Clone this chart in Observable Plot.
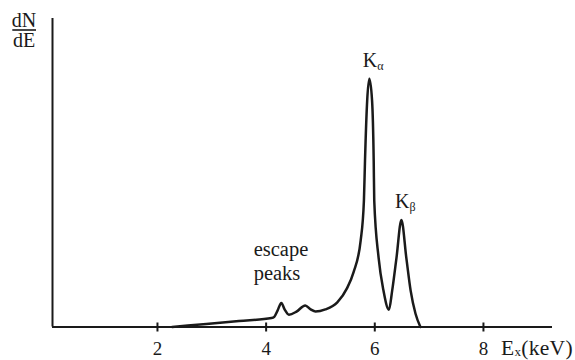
<!DOCTYPE html>
<html><head><meta charset="utf-8">
<script src="https://cdn.jsdelivr.net/npm/d3@7"></script>
<script src="https://cdn.jsdelivr.net/npm/@observablehq/plot@0.6"></script>
<style>
body{margin:0;background:#fff}
#chart{width:575px;height:360px}
#chart svg, #chart svg text, #chart svg tspan { font-family: "Liberation Serif", "DejaVu Serif", "Times New Roman", serif !important; }
</style>
</head><body><div id="chart"></div>
<script>
// Spectrum (energy in keV, counts in arbitrary units 0-100)
const energy = [2.27, 2.90, 3.50, 4.10, 4.15, 4.21, 4.28, 4.34, 4.42, 4.56, 4.72, 4.82, 4.91, 5.09, 5.31, 5.49, 5.61, 5.74, 5.80, 5.82, 5.86, 5.90, 5.95, 5.98, 5.99, 6.07, 6.16, 6.26, 6.32, 6.40, 6.49, 6.58, 6.66, 6.75, 6.84];
const counts = [0, 1.0, 1.95, 2.9, 3.3, 5.3, 7.8, 5.7, 4.0, 5.0, 7.0, 5.7, 5.0, 5.7, 8.0, 12.6, 17.8, 28.0, 41, 54, 73.4, 80.5, 73.4, 54, 41, 22.5, 11.8, 5.6, 11.8, 22.5, 34.7, 22.5, 11.8, 4.3, 0];
const xTicks = [2, 4, 6, 8];
const peakNames = ["K", "K"];
const peakSubs = ["α", "β"];
const peakEnergies = [5.90, 6.49];
const escapeText = "escape\npeaks";
const escapeE = [3.77];
const escapeN = [15.1];
const xLabel = ["E", "x", "(keV)"];
const yLabel = ["dN", "dE"];

const spectrum = energy.map((E, i) => ({E, N: counts[i]}));
const peaks = peakEnergies.map((E, i) => ({E, N: counts[energy.indexOf(E)], name: peakNames[i], sub: peakSubs[i]}));
const escape = escapeE.map((E, i) => ({E, N: escapeN[i], text: escapeText}));

const font = "\"Liberation Serif\", \"DejaVu Serif\", \"Times New Roman\", serif";
const xDomain = [0.068, 9.271];
const ink = "#1a1a1a";

const chart = Plot.plot({
  width: 575, height: 360,
  marginLeft: 52, marginRight: 23, marginTop: 18, marginBottom: 33.5,
  style: {fontFamily: font, background: "#fff", color: ink},
  x: {domain: xDomain, axis: null},
  y: {domain: [0, 100], axis: null},
  marks: [
    Plot.ruleY([0], {stroke: ink, strokeWidth: 2}),
    Plot.ruleX([xDomain[0]], {stroke: ink, strokeWidth: 2}),
    Plot.ruleX(xTicks, {x: d => d, y1: 0, y2: 0, insetTop: 5, insetBottom: 4, stroke: ink, strokeWidth: 2}),
    Plot.text(xTicks, {x: d => d, y: 0, text: d => String(d), lineAnchor: "bottom", dy: 27.5, fontSize: 19, fill: ink}),
    Plot.line(spectrum, {x: "E", y: "N", curve: "monotone-x", stroke: ink, strokeWidth: 2.5}),
    Plot.text(peaks, {x: "E", y: "N", text: "name", textAnchor: "start", lineAnchor: "bottom", dx: -6.5, dy: -11.5, fontSize: 20, fill: ink}),
    Plot.text(peaks, {x: "E", y: "N", text: "sub", textAnchor: "start", lineAnchor: "bottom", dx: 8, dy: -9, fontSize: 12, fill: ink}),
    Plot.text(escape, {x: "E", y: "N", text: "text", textAnchor: "start", lineAnchor: "bottom", lineHeight: 1.17, fontSize: 20.5, fill: ink})
  ]
});
document.getElementById("chart").appendChild(chart);

// Rich-text labels (subscript, fraction) added to the same SVG
const svg = d3.select(chart);
svg.selectAll("text").style("font-family", font, "important");
const t = svg.append("text").attr("x", 501).attr("y", 354.7).attr("text-anchor", "start")
  .style("font-family", font, "important").attr("font-size", 21.5).attr("letter-spacing", 0.3).attr("fill", ink);
t.append("tspan").text(xLabel[0]);
t.append("tspan").attr("font-size", 13).attr("dy", 1.5).text(xLabel[1]);
t.append("tspan").attr("dy", -1.5).text(xLabel[2]);

svg.append("text").attr("x", 24).attr("y", 26.7).attr("text-anchor", "middle")
  .style("font-family", font, "important").attr("font-size", 20).attr("fill", ink).text(yLabel[0]);
svg.append("line").attr("x1", 12.3).attr("x2", 36).attr("y1", 30).attr("y2", 30)
  .attr("stroke", ink).attr("stroke-width", 1.6);
svg.append("text").attr("x", 24).attr("y", 46.7).attr("text-anchor", "middle")
  .style("font-family", font, "important").attr("font-size", 20).attr("fill", ink).text(yLabel[1]);
</script>
</body></html>
